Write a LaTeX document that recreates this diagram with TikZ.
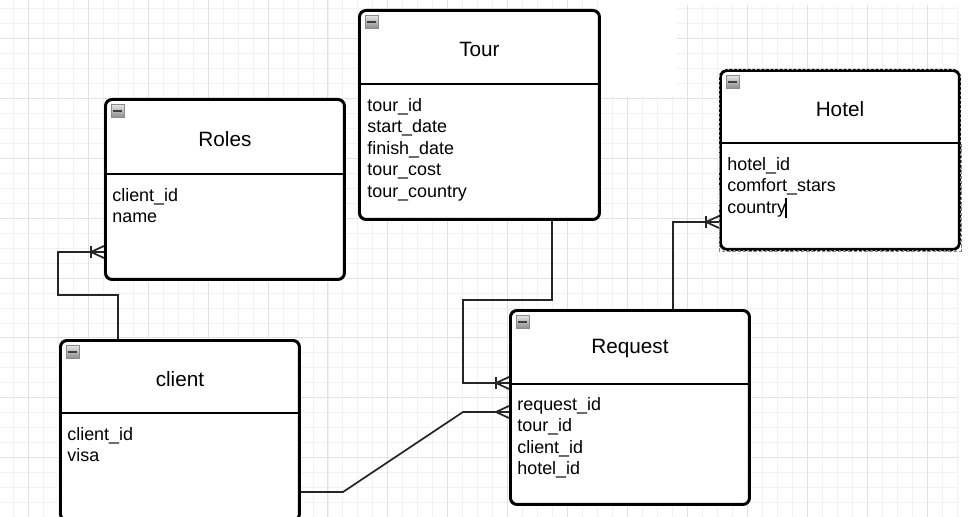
\documentclass[tikz,border=0pt]{standalone}
\usepackage{fontspec}
\setmainfont{Liberation Sans}
\usetikzlibrary{positioning, calc}
\definecolor{gridmin}{HTML}{F2F2F2}
\definecolor{gridmaj}{HTML}{E2E2E2}
\definecolor{selblue}{HTML}{29A3E0}
\tikzstyle{entity}=[shape=rectangle,
                    draw=black,
                    fill=white,
                    line width=1.7pt,
                    rounded corners=0.13cm,
                    minimum width=4.78cm,
                    inner sep=0pt,
                    anchor=north west]
\tikzstyle{title}=[font=\fontsize{11.8}{14}\selectfont, inner sep=0pt]
\tikzstyle{fields}=[font=\fontsize{10.2}{12.2}\selectfont,
                    align=left,
                    inner sep=0pt,
                    anchor=north west]
\tikzstyle{toggle}=[shape=rectangle,
                    draw=black!45,
                    top color=black!10,
                    bottom color=black!45,
                    line width=0.4pt,
                    minimum size=0.26cm,
                    inner sep=0pt,
                    anchor=north west,
                    path picture={\draw[line width=1.3pt, black!75]
                      ([xshift=1.2pt]path picture bounding box.west) --
                      ([xshift=-1.2pt]path picture bounding box.east);}]
\tikzstyle{sep}=[line width=1.2pt]
\tikzstyle{rel}=[line width=1pt, draw=black!85]
\tikzset{onemany/.pic={\draw (-13,-6) -- (-13,6);
                       \draw (0,-6) -- (-13,0) -- (0,6);},
         many/.pic={\draw (0,-6) -- (-13,0) -- (0,6);}}

\begin{document}
\begin{tikzpicture}[x=0.02cm, y=-0.02cm]

\useasboundingbox (0,0) rectangle (974,517);
\clip (0,0) rectangle (974,517);

% background grid
\begin{scope}[x=1cm, y=1cm, shift={(0.26,-0.16)}]
\draw[gridmin, line width=0.5pt, step=0.3] (-0.6,-11.1) grid (20,0.6);
\end{scope}
\begin{scope}[x=1cm, y=1cm, shift={(0.56,-0.76)}]
\draw[gridmaj, line width=0.5pt, step=1.2] (-1.2,-10.8) grid (19.2,1.2);
\end{scope}
\fill[white] (598,0) rectangle (677,97);
\fill[white] (677,0) rectangle (974,5);
\fill[white] (958,0) rectangle (974,517);

% entities
\node[entity, minimum width=4.8cm, minimum height=4.18cm] (tour) at (358,9) {};
\node[entity, minimum height=3.6cm] (roles) at (104,98) {};
\node[entity, minimum height=3.58cm] (hotel) at (719,69) {};
\node[entity, minimum height=3.6cm] (client) at (59,339) {};
\node[entity, minimum height=3.88cm] (request) at (509,309) {};

% hotel is selected
\draw[white, line width=0.6pt, dash pattern=on 1pt off 1.6pt, rounded corners=0.13cm]
  (hotel.north west) rectangle (hotel.south east);
\draw[selblue, line width=0.5pt, dash pattern=on 2pt off 1pt]
  ($(hotel.north west)+(0,74)$) rectangle (hotel.south east);

% headers
\draw[sep] ($(tour.north west)+(0,75)$) -- ($(tour.north east)+(0,75)$);
\draw[sep] ($(roles.north west)+(0,76)$) -- ($(roles.north east)+(0,76)$);
\draw[sep] ($(hotel.north west)+(0,74)$) -- ($(hotel.north east)+(0,74)$);
\draw[sep] ($(client.north west)+(0,74)$) -- ($(client.north east)+(0,74)$);
\draw[sep] ($(request.north west)+(0,75)$) -- ($(request.north east)+(0,75)$);

\node[toggle] (tourtg) at ($(tour.north west)+(7,6)$) {};
\node[toggle] (rolestg) at ($(roles.north west)+(7,6)$) {};
\node[toggle] (hoteltg) at ($(hotel.north west)+(7,6)$) {};
\node[toggle] (clienttg) at ($(client.north west)+(7,6)$) {};
\node[toggle] (requesttg) at ($(request.north west)+(7,6)$) {};

\node[title] (tourt) at ($(tour.north)+(0,40)$) {Tour};
\node[title] (rolest) at ($(roles.north)+(0,41)$) {Roles};
\node[title] (hotelt) at ($(hotel.north)+(0,40)$) {Hotel};
\node[title] (clientt) at ($(client.north)+(0,40)$) {client};
\node[title] (requestt) at ($(request.north)+(0,40)$) {Request};

\node[fields] (tourf) at ($(tour.north west)+(9,89)$)
  {tour\_id\\start\_date\\finish\_date\\tour\_cost\\tour\_country};
\node[fields] (rolesf) at ($(roles.north west)+(8,90)$) {client\_id\\name};
\node[fields] (hotelf) at ($(hotel.north west)+(8,88)$)
  {hotel\_id\\comfort\_stars\\country};
\node[fields] (clientf) at ($(client.north west)+(8,88)$) {client\_id\\visa};
\node[fields] (requestf) at ($(request.north west)+(8,88)$)
  {request\_id\\tour\_id\\client\_id\\hotel\_id};
\draw[line width=0.6pt] ($(hotel.north west)+(67,129)$) -- ($(hotel.north west)+(67,149)$);

% relations
\draw[rel] (118,0 |- client.north) -- (118,295) -- (58,295) -- (58,252) -- (roles.west |- 0,252);
\pic[rel] at (roles.west |- 0,252) {onemany};

\draw[rel] (552,0 |- tour.south) -- (552,300) -- (463,300) -- (463,383) -- (request.west |- 0,383);
\pic[rel] at (request.west |- 0,383) {onemany};

\draw[rel] (client.east |- 0,492) -- (343,492) -- (463,412) -- (request.west |- 0,412);
\pic[rel] at (request.west |- 0,412) {many};

\draw[rel] (673,0 |- request.north) -- (673,222) -- (hotel.west |- 0,222);
\pic[rel] at (hotel.west |- 0,222) {onemany};

\end{tikzpicture}
\end{document}
